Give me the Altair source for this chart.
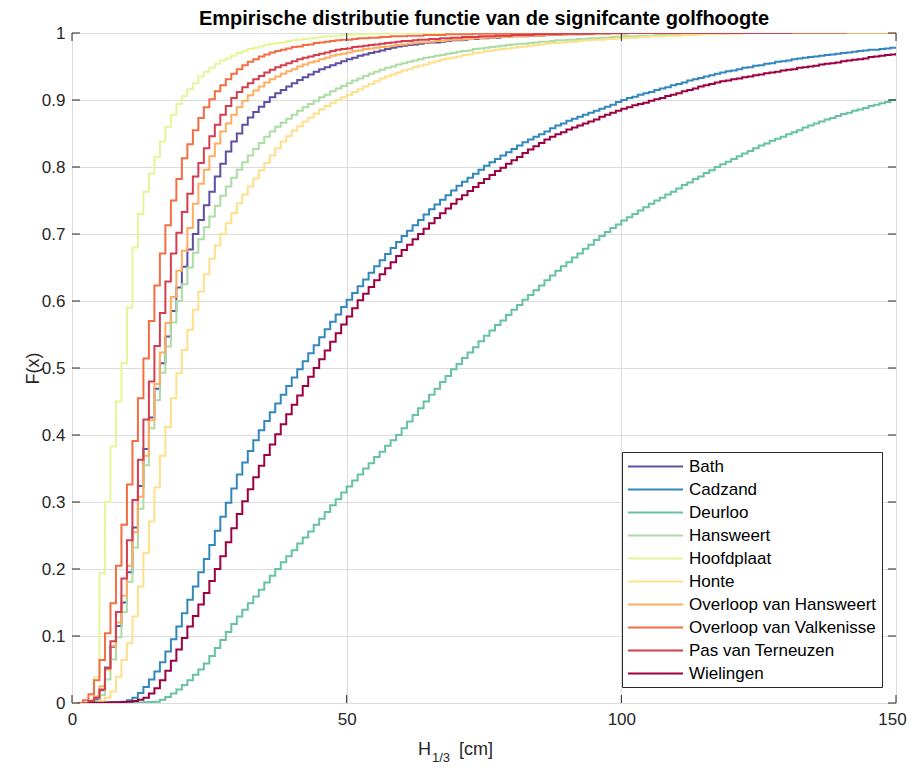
import altair as alt
import pandas as pd

names = ["Bath", "Cadzand", "Deurloo", "Hansweert", "Hoofdplaat", "Honte",
         "Overloop van Hansweert", "Overloop van Valkenisse", "Pas van Terneuzen", "Wielingen"]
colors = ["#5e4fa2", "#3288bd", "#66c2a5", "#abdda4", "#e6f598", "#fee08b",
          "#fdae61", "#f46d43", "#d53e4f", "#9e0142"]

# first x (cm) of each series, and x where each line ends (its largest value)
start_x = [3, 3, 8, 3, 2, 4, 2, 1, 2, 3]
end_x = [150, 150, 150, 150, 150, 150, 150, 141, 131, 150]

# empirical CDF values at consecutive integer cm, from start_x onward
bath = [0.000, 0.005, 0.019, 0.053, 0.084, 0.115, 0.150, 0.195, 0.262, 0.324,
        0.379, 0.426, 0.469, 0.507, 0.547, 0.585, 0.620, 0.651, 0.677, 0.700,
        0.721, 0.743, 0.763, 0.786, 0.805, 0.823, 0.838, 0.850, 0.863, 0.874,
        0.882, 0.890, 0.897, 0.904, 0.910, 0.915, 0.920, 0.925, 0.930, 0.934,
        0.938, 0.942, 0.946, 0.949, 0.952, 0.955, 0.958, 0.961, 0.963, 0.966,
        0.968, 0.970, 0.972, 0.974, 0.976, 0.978, 0.980, 0.981, 0.982, 0.983,
        0.984, 0.985, 0.986, 0.986, 0.987, 0.988, 0.989, 0.989, 0.990, 0.991,
        0.991, 0.992, 0.992, 0.993, 0.993, 0.994, 0.994, 0.995, 0.995, 0.995,
        0.996, 0.996, 0.996, 0.997, 0.997, 0.997, 0.998, 0.998, 0.998, 0.998,
        0.999, 0.999, 0.999, 0.999, 0.999, 1.000]
cadzand = [0.000, 0.0003, 0.0005, 0.0007, 0.001, 0.0015, 0.002, 0.004, 0.008, 0.015,
           0.024, 0.035, 0.047, 0.061, 0.077, 0.095, 0.114, 0.134, 0.154, 0.174,
           0.195, 0.215, 0.236, 0.257, 0.278, 0.299, 0.320, 0.341, 0.359, 0.376,
           0.392, 0.407, 0.421, 0.434, 0.447, 0.460, 0.473, 0.486, 0.498, 0.510,
           0.522, 0.534, 0.546, 0.558, 0.569, 0.580, 0.591, 0.602, 0.612, 0.622,
           0.632, 0.642, 0.652, 0.661, 0.670, 0.679, 0.688, 0.697, 0.705, 0.713,
           0.721, 0.729, 0.737, 0.744, 0.751, 0.758, 0.765, 0.772, 0.778, 0.784,
           0.790, 0.796, 0.802, 0.807, 0.812, 0.817, 0.822, 0.827, 0.832, 0.837,
           0.841, 0.845, 0.849, 0.853, 0.858, 0.862, 0.865, 0.869, 0.872, 0.875,
           0.878, 0.881, 0.884, 0.887, 0.890, 0.893, 0.897, 0.900, 0.903, 0.905,
           0.908, 0.910, 0.912, 0.915, 0.917, 0.919, 0.922, 0.924, 0.926, 0.929,
           0.931, 0.933, 0.935, 0.937, 0.939, 0.941, 0.943, 0.944, 0.946, 0.948,
           0.949, 0.951, 0.952, 0.954, 0.955, 0.957, 0.958, 0.959, 0.961, 0.962,
           0.963, 0.964, 0.965, 0.966, 0.967, 0.968, 0.969, 0.970, 0.971, 0.972,
           0.973, 0.974, 0.975, 0.975, 0.976, 0.977, 0.978, 0.979]
deurloo = [0.000, 0.0002, 0.0004, 0.0006, 0.0008, 0.001, 0.0015, 0.002, 0.005, 0.009,
           0.014, 0.020, 0.027, 0.034, 0.042, 0.050, 0.059, 0.070, 0.082, 0.094,
           0.106, 0.118, 0.129, 0.139, 0.149, 0.159, 0.169, 0.180, 0.190, 0.200,
           0.210, 0.219, 0.228, 0.238, 0.247, 0.256, 0.266, 0.275, 0.285, 0.295,
           0.304, 0.314, 0.323, 0.332, 0.341, 0.350, 0.358, 0.367, 0.375, 0.384,
           0.392, 0.400, 0.410, 0.420, 0.430, 0.440, 0.450, 0.460, 0.469, 0.479,
           0.488, 0.498, 0.506, 0.515, 0.523, 0.531, 0.540, 0.548, 0.556, 0.564,
           0.571, 0.579, 0.587, 0.594, 0.602, 0.609, 0.616, 0.623, 0.631, 0.638,
           0.645, 0.652, 0.658, 0.665, 0.671, 0.678, 0.684, 0.691, 0.697, 0.703,
           0.709, 0.714, 0.720, 0.725, 0.730, 0.735, 0.740, 0.745, 0.750, 0.754,
           0.759, 0.763, 0.768, 0.773, 0.777, 0.782, 0.786, 0.791, 0.795, 0.800,
           0.804, 0.808, 0.812, 0.816, 0.820, 0.824, 0.828, 0.832, 0.835, 0.839,
           0.842, 0.845, 0.849, 0.852, 0.855, 0.859, 0.862, 0.865, 0.868, 0.871,
           0.873, 0.876, 0.879, 0.881, 0.884, 0.886, 0.888, 0.891, 0.893, 0.895,
           0.897, 0.900, 0.902]
hansweert = [0.000, 0.003, 0.012, 0.035, 0.065, 0.098, 0.136, 0.181, 0.232, 0.290,
             0.355, 0.410, 0.452, 0.493, 0.532, 0.568, 0.600, 0.625, 0.650, 0.672,
             0.692, 0.710, 0.726, 0.742, 0.757, 0.771, 0.784, 0.796, 0.807, 0.817,
             0.827, 0.836, 0.845, 0.853, 0.860, 0.866, 0.872, 0.878, 0.884, 0.889,
             0.894, 0.899, 0.904, 0.908, 0.913, 0.917, 0.921, 0.925, 0.929, 0.932,
             0.936, 0.939, 0.942, 0.945, 0.948, 0.950, 0.953, 0.955, 0.957, 0.959,
             0.961, 0.963, 0.964, 0.966, 0.967, 0.969, 0.970, 0.972, 0.973, 0.974,
             0.976, 0.977, 0.978, 0.979, 0.980, 0.981, 0.982, 0.983, 0.984, 0.984,
             0.985, 0.986, 0.987, 0.987, 0.988, 0.989, 0.989, 0.990, 0.990, 0.991,
             0.991, 0.992, 0.992, 0.993, 0.993, 0.994, 0.994, 0.995, 0.995, 0.995,
             0.996, 0.996, 0.996, 0.997, 0.997, 0.997, 0.997, 0.998, 0.998, 0.998,
             0.998, 0.999, 0.999, 0.999, 0.999, 0.999, 1.000]
hoofdplaat = [0.000, 0.005, 0.039, 0.194, 0.300, 0.383, 0.450, 0.507, 0.590, 0.680,
              0.730, 0.763, 0.790, 0.815, 0.838, 0.860, 0.878, 0.894, 0.906, 0.916,
              0.925, 0.935, 0.942, 0.948, 0.954, 0.959, 0.962, 0.966, 0.970, 0.973,
              0.976, 0.978, 0.980, 0.982, 0.984, 0.985, 0.986, 0.988, 0.989, 0.990,
              0.991, 0.992, 0.993, 0.994, 0.995, 0.995, 0.996, 0.997, 0.997, 0.998,
              0.998, 0.998, 0.999, 0.999, 0.999, 0.999, 1.000]
honte = [0.000, 0.003, 0.008, 0.017, 0.039, 0.064, 0.089, 0.129, 0.174, 0.224,
         0.271, 0.322, 0.369, 0.412, 0.455, 0.492, 0.527, 0.557, 0.587, 0.614,
         0.640, 0.663, 0.683, 0.700, 0.716, 0.731, 0.746, 0.759, 0.771, 0.783,
         0.795, 0.806, 0.817, 0.828, 0.838, 0.846, 0.854, 0.861, 0.868, 0.874,
         0.880, 0.886, 0.891, 0.896, 0.900, 0.904, 0.908, 0.912, 0.916, 0.920,
         0.924, 0.928, 0.932, 0.935, 0.938, 0.941, 0.944, 0.946, 0.949, 0.951,
         0.953, 0.956, 0.958, 0.960, 0.962, 0.963, 0.965, 0.967, 0.968, 0.970,
         0.971, 0.973, 0.974, 0.975, 0.976, 0.977, 0.978, 0.979, 0.980, 0.981,
         0.982, 0.983, 0.984, 0.985, 0.985, 0.986, 0.987, 0.987, 0.988, 0.989,
         0.989, 0.990, 0.990, 0.991, 0.991, 0.992, 0.992, 0.993, 0.993, 0.994,
         0.994, 0.995, 0.995, 0.995, 0.996, 0.996, 0.996, 0.997, 0.997, 0.997,
         0.998, 0.998, 0.998, 0.998, 0.999, 0.999, 0.999, 0.999, 1.000]
ov_hansweert = [0.000, 0.003, 0.010, 0.025, 0.050, 0.085, 0.120, 0.160, 0.205, 0.255,
                0.308, 0.369, 0.422, 0.476, 0.523, 0.567, 0.606, 0.645, 0.675, 0.709,
                0.745, 0.775, 0.796, 0.816, 0.835, 0.853, 0.865, 0.878, 0.889, 0.899,
                0.907, 0.914, 0.920, 0.926, 0.931, 0.935, 0.939, 0.943, 0.946, 0.950,
                0.953, 0.956, 0.958, 0.961, 0.963, 0.966, 0.968, 0.969, 0.971, 0.973,
                0.974, 0.976, 0.977, 0.978, 0.979, 0.980, 0.981, 0.982, 0.983, 0.984,
                0.985, 0.986, 0.986, 0.987, 0.988, 0.988, 0.989, 0.990, 0.990, 0.991,
                0.991, 0.992, 0.992, 0.993, 0.993, 0.994, 0.994, 0.994, 0.995, 0.995,
                0.995, 0.996, 0.996, 0.996, 0.997, 0.997, 0.997, 0.997, 0.998, 0.998,
                0.998, 0.998, 0.998, 0.999, 0.999, 0.999, 0.999, 0.999, 0.999, 1.000]
ov_valkenisse = [0.000, 0.004, 0.013, 0.034, 0.064, 0.104, 0.149, 0.205, 0.266, 0.326,
                 0.391, 0.455, 0.514, 0.570, 0.623, 0.671, 0.713, 0.750, 0.782, 0.813,
                 0.834, 0.855, 0.873, 0.889, 0.901, 0.913, 0.922, 0.931, 0.939, 0.946,
                 0.952, 0.957, 0.961, 0.965, 0.968, 0.971, 0.973, 0.975, 0.977, 0.979,
                 0.980, 0.982, 0.983, 0.985, 0.986, 0.987, 0.988, 0.989, 0.990, 0.990,
                 0.991, 0.992, 0.992, 0.993, 0.993, 0.994, 0.994, 0.995, 0.995, 0.995,
                 0.996, 0.996, 0.996, 0.997, 0.997, 0.997, 0.997, 0.998, 0.998, 0.998,
                 0.998, 0.998, 0.999, 0.999, 0.999, 0.999, 0.999, 0.999, 0.999, 0.999,
                 0.999, 0.999, 0.999, 0.999, 1.000]
pas_terneuzen = [0.000, 0.003, 0.008, 0.020, 0.052, 0.092, 0.136, 0.186, 0.243, 0.303,
                 0.363, 0.423, 0.480, 0.533, 0.582, 0.629, 0.671, 0.702, 0.733, 0.760,
                 0.786, 0.806, 0.828, 0.846, 0.863, 0.878, 0.891, 0.903, 0.912, 0.919,
                 0.925, 0.931, 0.936, 0.941, 0.945, 0.949, 0.952, 0.955, 0.958, 0.961,
                 0.963, 0.965, 0.967, 0.969, 0.971, 0.973, 0.975, 0.976, 0.977, 0.979,
                 0.980, 0.981, 0.982, 0.983, 0.984, 0.985, 0.986, 0.987, 0.988, 0.988,
                 0.989, 0.990, 0.990, 0.991, 0.991, 0.992, 0.992, 0.993, 0.993, 0.994,
                 0.994, 0.994, 0.995, 0.995, 0.995, 0.996, 0.996, 0.996, 0.997, 0.997,
                 0.997, 0.997, 0.998, 0.998, 0.998, 0.998, 0.998, 0.999, 0.999, 0.999,
                 0.999, 0.999, 0.999, 1.000]
wielingen = [0.000, 0.0003, 0.0005, 0.0007, 0.001, 0.0012, 0.0015, 0.002, 0.003, 0.005,
             0.008, 0.014, 0.022, 0.034, 0.048, 0.063, 0.080, 0.097, 0.114, 0.130,
             0.147, 0.164, 0.182, 0.200, 0.219, 0.240, 0.261, 0.282, 0.301, 0.319,
             0.337, 0.354, 0.370, 0.386, 0.401, 0.416, 0.431, 0.445, 0.459, 0.473,
             0.487, 0.500, 0.513, 0.526, 0.539, 0.552, 0.565, 0.577, 0.589, 0.601,
             0.611, 0.621, 0.631, 0.640, 0.649, 0.658, 0.667, 0.676, 0.684, 0.692,
             0.700, 0.708, 0.716, 0.724, 0.731, 0.738, 0.745, 0.752, 0.758, 0.764,
             0.770, 0.776, 0.782, 0.788, 0.794, 0.799, 0.805, 0.810, 0.815, 0.821,
             0.826, 0.831, 0.836, 0.841, 0.845, 0.849, 0.852, 0.856, 0.859, 0.862,
             0.865, 0.868, 0.871, 0.875, 0.878, 0.881, 0.884, 0.887, 0.889, 0.892,
             0.894, 0.896, 0.899, 0.901, 0.903, 0.906, 0.908, 0.910, 0.913, 0.915,
             0.917, 0.920, 0.922, 0.924, 0.926, 0.928, 0.929, 0.931, 0.932, 0.934,
             0.935, 0.937, 0.938, 0.940, 0.941, 0.942, 0.944, 0.945, 0.946, 0.948,
             0.949, 0.950, 0.951, 0.953, 0.954, 0.955, 0.956, 0.958, 0.959, 0.960,
             0.961, 0.962, 0.964, 0.965, 0.966, 0.967, 0.968, 0.970]

series_values = [bath, cadzand, deurloo, hansweert, hoofdplaat, honte,
                 ov_hansweert, ov_valkenisse, pas_terneuzen, wielingen]

x_ticks = [0, 50, 100, 150]
y_ticks = [0, 0.1, 0.2, 0.3, 0.4, 0.5, 0.6, 0.7, 0.8, 0.9, 1]

rows = []
for name, x0, x_end, vals in zip(names, start_x, end_x, series_values):
    for i, v in enumerate(vals):
        rows.append({"x": x0 + i, "F": v, "name": name})
    last_x = x0 + len(vals) - 1
    if last_x < x_end:
        rows.append({"x": x_end, "F": vals[-1], "name": name})
df = pd.DataFrame(rows)

FONT = "Liberation Sans"
INK = "#262626"
W, H = 824, 670

xscale = alt.Scale(domain=[0, 150], nice=False, zero=False)
yscale = alt.Scale(domain=[0, 1], nice=False, zero=False)

lines = alt.Chart(df).mark_line(interpolate="step-after", strokeWidth=2, clip=True).encode(
    x=alt.X("x:Q", scale=xscale,
            axis=alt.Axis(values=x_ticks, title=None, grid=True, ticks=False, domain=False,
                          labelPadding=8, labelFlush=False, labelOverlap=False,
                          labelOffset=alt.condition("datum.value == 150", alt.value(-4), alt.value(0)),
                          labelFontSize=17, labelFont=FONT, labelColor=INK,
                          gridColor="#dcdcdc", gridWidth=1)),
    y=alt.Y("F:Q", scale=yscale,
            axis=alt.Axis(values=y_ticks, format="~g", title="F(x)", grid=True, ticks=False,
                          domain=False, labelPadding=7, labelFlush=False, labelOverlap=False,
                          labelFontSize=17, labelFont=FONT, labelColor=INK,
                          gridColor="#dcdcdc", gridWidth=1,
                          titleFont=FONT, titleFontSize=18, titleFontWeight="normal",
                          titleColor=INK, titleX=-39, titleY=335, titleAngle=270,
                          titleAlign="center", titleBaseline="middle")),
    color=alt.Color("name:N", scale=alt.Scale(domain=names, range=colors),
                    legend=alt.Legend(title=None, orient="none", legendX=550, legendY=419,
                                      direction="vertical", symbolType="M-3.24,0H3.24",
                                      symbolSize=289, symbolStrokeWidth=2, symbolOffset=19,
                                      labelFontSize=17, labelFont=FONT, labelColor="black",
                                      rowPadding=5, padding=5, labelOffset=24, labelLimit=400,
                                      strokeColor=INK, fillColor="white")),
)

ydf = pd.DataFrame({"v": y_ticks})
xdf = pd.DataFrame({"v": x_ticks})
tick_style = dict(color=INK, strokeWidth=1)
tl = alt.Chart(ydf).mark_rule(**tick_style).encode(
    y=alt.Y("v:Q", scale=yscale, axis=None), x=alt.value(0), x2=alt.value(8))
tr = alt.Chart(ydf).mark_rule(**tick_style).encode(
    y=alt.Y("v:Q", scale=yscale, axis=None), x=alt.value(W - 8), x2=alt.value(W))
tb = alt.Chart(xdf).mark_rule(**tick_style).encode(
    x=alt.X("v:Q", scale=xscale, axis=None), y=alt.value(H - 8), y2=alt.value(H))
tt = alt.Chart(xdf).mark_rule(**tick_style).encode(
    x=alt.X("v:Q", scale=xscale, axis=None), y=alt.value(0), y2=alt.value(8))

def label(txt, x, y, size):
    return alt.Chart(alt.Data(values=[{"t": txt}])).mark_text(
        align="left", baseline="alphabetic", font=FONT, fontSize=size, color=INK
    ).encode(text="t:N", x=alt.value(x), y=alt.value(y))

xt1 = label("H", 346, 722, 18)
xt2 = label("1/3", 360, 729, 13)
xt3 = label("[cm]", 387, 722, 18)

chart = alt.layer(lines, tl, tr, tb, tt, xt1, xt2, xt3).resolve_axis(
    x="independent", y="independent"
).properties(
    width=W, height=H,
    padding={"left": 64, "top": 25, "right": 11, "bottom": 61},
    autosize=alt.AutoSizeParams(type="none"),
    title=alt.TitleParams("Empirische distributie functie van de signifcante golfhoogte",
                          fontSize=20, fontWeight="bold", font=FONT, color="black",
                          anchor="middle", frame="group", offset=7, dy=12),
).configure_view(stroke=INK, strokeWidth=1.2).configure(background="white")

chart.save("out.html", embed_options={"renderer": "svg", "actions": False})
